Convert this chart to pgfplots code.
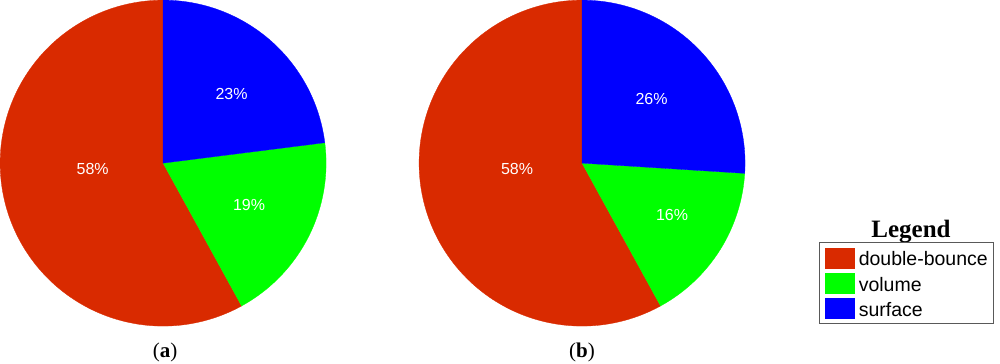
\documentclass[border=0pt]{standalone}
\usepackage{pgfplots}
\usepackage{pgfplotstable}
\pgfplotsset{compat=1.18}
\usepackage{fontspec}
\setmainfont{Liberation Serif}
\newfontfamily\arial{Liberation Sans}
\definecolor{pred}{HTML}{D92A00}
\definecolor{pgreen}{HTML}{00FF00}
\definecolor{pblue}{HTML}{0000FF}

% shares (percent) of the scattering mechanisms
\pgfplotstableread{
mech          a   b
surface       23  26
volume        19  16
doublebounce  58  58
}\pietable

\pgfplotstablegetelem{0}{a}\of\pietable \let\aS\pgfplotsretval
\pgfplotstablegetelem{1}{a}\of\pietable \let\aV\pgfplotsretval
\pgfplotstablegetelem{2}{a}\of\pietable \let\aD\pgfplotsretval
\pgfplotstablegetelem{0}{b}\of\pietable \let\bS\pgfplotsretval
\pgfplotstablegetelem{1}{b}\of\pietable \let\bV\pgfplotsretval
\pgfplotstablegetelem{2}{b}\of\pietable \let\bD\pgfplotsretval

\pgfmathsetmacro\aOne{90-3.6*\aS}
\pgfmathsetmacro\aTwo{\aOne-3.6*\aV}
\pgfmathsetmacro\aThree{\aTwo-3.6*\aD}
\pgfmathsetmacro\bOne{90-3.6*\bS}
\pgfmathsetmacro\bTwo{\bOne-3.6*\bV}
\pgfmathsetmacro\bThree{\bTwo-3.6*\bD}

\begin{document}
\begin{tikzpicture}
\begin{axis}[
  x=1pt, y=1pt,
  xmin=0, xmax=1000, ymin=0, ymax=363,
  hide axis, clip=false,
  legend image code/.code={\fill[#1] (0pt,-2pt) rectangle (29pt,18pt);},
  legend style={
    at={(0.819,0.1074)}, anchor=south west,
    draw=black!65, line width=0.9pt,
    inner xsep=6pt, inner ysep=5pt,
    row sep=5pt, column sep=4pt,
    nodes={inner sep=0pt},
    cells={anchor=base west},
    font=\arial\fontsize{19.5}{22}\selectfont,
  },
]
\path (axis cs:0,0) rectangle (axis cs:1000,363);

% ---- pie (a) ----
\addplot[draw=pred, line width=0.3pt, fill=pred, domain=\aThree:\aTwo, samples=150]
  ({163+163*cos(x)},{200+163*sin(x)}) -- (axis cs:163,200) -- cycle;
\addlegendentry{double-bounce\hspace{5pt}}
\addplot[draw=pgreen, line width=0.3pt, fill=pgreen, domain=\aTwo:\aOne, samples=80]
  ({163+163*cos(x)},{200+163*sin(x)}) -- (axis cs:163,200) -- cycle;
\addlegendentry{volume}
\addplot[draw=pblue, line width=0.3pt, fill=pblue, domain=\aOne:90, samples=80]
  ({163+163*cos(x)},{200+163*sin(x)}) -- (axis cs:163,200) -- cycle;
\addlegendentry{surface}

% ---- pie (b) ----
\addplot[forget plot, draw=pred, line width=0.3pt, fill=pred, domain=\bThree:\bTwo, samples=150]
  ({582+163*cos(x)},{200+163*sin(x)}) -- (axis cs:582,200) -- cycle;
\addplot[forget plot, draw=pgreen, line width=0.3pt, fill=pgreen, domain=\bTwo:\bOne, samples=80]
  ({582+163*cos(x)},{200+163*sin(x)}) -- (axis cs:582,200) -- cycle;
\addplot[forget plot, draw=pblue, line width=0.3pt, fill=pblue, domain=\bOne:90, samples=80]
  ({582+163*cos(x)},{200+163*sin(x)}) -- (axis cs:582,200) -- cycle;

% slice labels
\begin{scope}[every node/.style={text=white, inner sep=0pt, font=\arial\fontsize{16}{18}\selectfont}]
\node at (axis cs:92.5,194) {\aD\%};
\node at (axis cs:231.5,269) {\aS\%};
\node at (axis cs:249,158.5) {\aV\%};
\node at (axis cs:517,194) {\bD\%};
\node at (axis cs:651.5,264) {\bS\%};
\node at (axis cs:672,148.5) {\bV\%};
\end{scope}

% panel labels and legend title
\node[anchor=base, inner sep=0pt, font=\fontsize{21}{24}\selectfont] at (axis cs:165,6) {(\textbf{a})};
\node[anchor=base, inner sep=0pt, font=\fontsize{21}{24}\selectfont] at (axis cs:582,6) {(\textbf{b})};
\node[anchor=base, inner sep=0pt, font=\fontsize{25}{28}\selectfont\bfseries] at (axis cs:911,126) {Legend};
\end{axis}
\end{tikzpicture}
\end{document}
